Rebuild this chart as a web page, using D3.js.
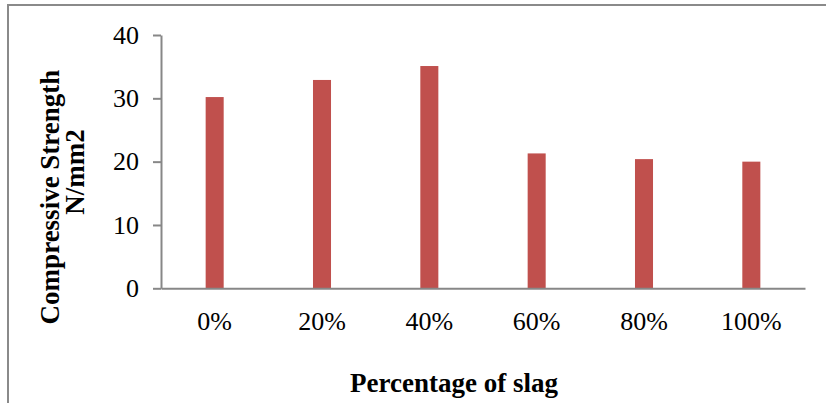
<!DOCTYPE html>
<html>
<head>
<meta charset="utf-8">
<script src="https://cdn.jsdelivr.net/npm/d3@7/dist/d3.min.js"></script>
<style>
  html, body { margin: 0; padding: 0; background: #fff; }
  svg { display: block; }
</style>
</head>
<body>
<svg id="chart" width="826" height="403"></svg>
<script>
const categories = ["0%", "20%", "40%", "60%", "80%", "100%"];
const values = [30.2, 32.9, 35.1, 21.3, 20.4, 20.0];
const yTicks = [0, 10, 20, 30, 40];
const yTitleLines = ["Compressive Strength", "N/mm2"];
const xTitle = "Percentage of slag";

(function () {
const svg = d3.select("#chart");
const W = 826, H = 403;
const plotLeft = 161, plotRight = 805, plotTop = 35, plotBottom = 288.3;
const serif = "'Liberation Serif', 'Times New Roman', Times, serif";
const axisColor = "#878787";

// outer frame
svg.append("rect")
  .attr("x", 8).attr("y", 5)
  .attr("width", W + 20).attr("height", H + 20)
  .attr("fill", "none").attr("stroke", "#8a8a8a").attr("stroke-width", 2);

const x = d3.scaleBand().domain(categories).range([plotLeft, plotRight]).paddingInner(0.832).paddingOuter(0.416);
const y = d3.scaleLinear().domain([0, 40]).range([plotBottom, plotTop]);

// bars
svg.append("g").selectAll("rect").data(values).join("rect")
  .attr("x", (d, i) => x(categories[i]))
  .attr("width", x.bandwidth())
  .attr("y", d => y(d))
  .attr("height", d => y(0) - y(d))
  .attr("fill", "#C0504D");

// y axis
const gy = svg.append("g").attr("transform", `translate(${plotLeft},0)`)
  .call(d3.axisLeft(y).tickValues(yTicks).tickFormat(d3.format("d")).tickSize(8).tickSizeOuter(0).tickPadding(14));
gy.selectAll("path, line").attr("stroke", axisColor).attr("stroke-width", 2);
gy.selectAll("text").attr("font-family", serif).attr("font-size", 26).attr("fill", "#000");

// x axis
const gx = svg.append("g").attr("transform", `translate(0,${plotBottom})`)
  .call(d3.axisBottom(x).tickSize(0).tickSizeOuter(0).tickPadding(23));
gx.selectAll("path").attr("stroke", axisColor).attr("stroke-width", 2);
gx.selectAll("line").remove();
gx.selectAll("text").attr("font-family", serif).attr("font-size", 26).attr("fill", "#000");

// x title
svg.append("text")
  .attr("x", (plotLeft + plotRight) / 2 - 29).attr("y", 392)
  .attr("text-anchor", "middle")
  .attr("font-family", serif).attr("font-weight", "bold").attr("font-size", 27)
  .attr("fill", "#000")
  .text(xTitle);

// y title (rotated, two lines)
const yCenters = [197, 172];
const yBase = [59, 84];
yTitleLines.forEach((t, i) => {
  svg.append("text")
    .attr("transform", `translate(${yBase[i]},${yCenters[i]}) rotate(-90)`)
    .attr("text-anchor", "middle")
    .attr("font-family", serif).attr("font-weight", "bold").attr("font-size", 27)
    .attr("fill", "#000")
    .text(t);
});
})();
</script>
</body>
</html>
